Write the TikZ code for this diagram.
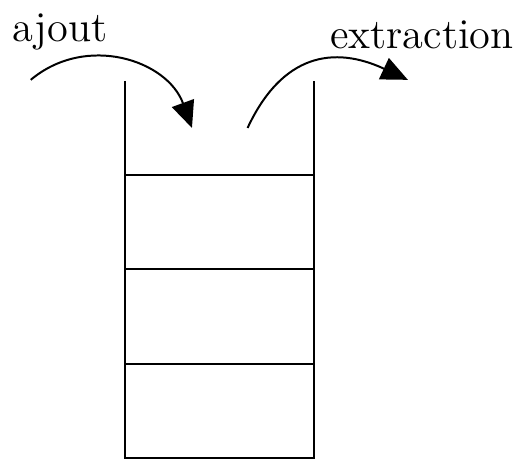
\documentclass[tikz,border=0pt]{standalone}
\usetikzlibrary{arrows.meta}
\begin{document}
\begin{tikzpicture}[
  pile/.style={semithick},
  fleche/.style={semithick, -{Triangle[length=8pt, width=7pt]}},
  etiquette/.style={font=\fontsize{12.8}{15}\selectfont, anchor=base}
]
  \useasboundingbox (-1.326, -0.021) rectangle (4.274, 4.857);

  % === Pile ===
  \draw[pile] (0, 4) -- (0, 0) -- (2, 0) -- (2, 4);
  \draw[pile] (0, 1) -- (2, 1);
  \draw[pile] (0, 2) -- (2, 2);
  \draw[pile] (0, 3) -- (2, 3);

  % === Ajout ===
  \node[etiquette] (ajout) at (-0.69, 4.42) {ajout};
  \coordinate (ajoutdebut) at (-1.0, 4.01);
  \coordinate (ajoutfin) at (0.71, 3.50);
  \draw[fleche] (ajoutdebut) to[out=40, in=110, looseness=1.1] (ajoutfin);

  % === Extraction ===
  \node[etiquette] (extraction) at (3.15, 4.34) {extraction};
  \coordinate (extractiondebut) at (1.30, 3.50);
  \coordinate (extractionfin) at (3.0, 4.01);
  \draw[fleche] (extractiondebut) to[out=65, in=155, looseness=1.25] (extractionfin);
\end{tikzpicture}
\end{document}
